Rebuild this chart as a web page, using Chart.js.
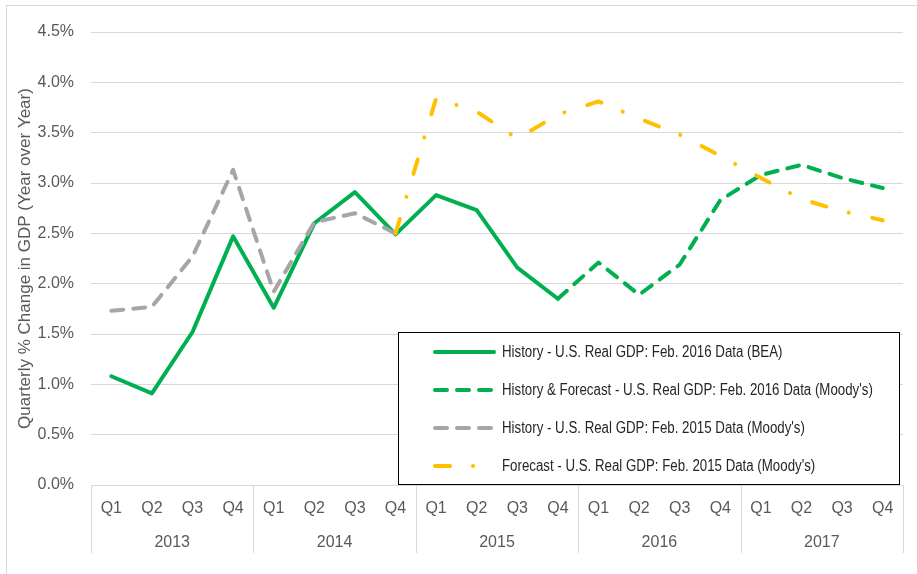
<!DOCTYPE html>
<html>
<head>
<meta charset="utf-8">
<script src="https://cdn.jsdelivr.net/npm/chart.js@4.4.1/dist/chart.umd.min.js"></script>
<style>
  html, body { margin: 0; padding: 0; background: #fff; }
  #wrap { position: relative; width: 917px; height: 574px; }
</style>
</head>
<body>
<div id="wrap"><canvas id="gdp-chart" width="917" height="574"></canvas></div>
<script>
// Quarterly real GDP growth, year over year (%)
const years = ['2013', '2014', '2015', '2016', '2017'];
const quarters = ['Q1', 'Q2', 'Q3', 'Q4'];
const yTicks = [0, 0.5, 1.0, 1.5, 2.0, 2.5, 3.0, 3.5, 4.0, 4.5];

const historyBEA2016 = [1.08, 0.91, 1.52, 2.47, 1.76, 2.60, 2.91, 2.49, 2.88, 2.73, 2.16, 1.85,
    null, null, null, null, null, null, null, null];
const forecastMoodys2016 = [null, null, null, null, null, null, null, null, null, null, null, 1.85,
    2.21, 1.89, 2.19, 2.83, 3.08, 3.18, 3.05, 2.95];
const historyMoodys2015 = [1.73, 1.77, 2.27, 3.13, 1.92, 2.61, 2.70, 2.50,
    null, null, null, null, null, null, null, null, null, null, null, null];
const forecastMoodys2015 = [null, null, null, null, null, null, null, 2.50,
    3.84, 3.71, 3.44, 3.68, 3.81, 3.64, 3.48, 3.27, 3.05, 2.84, 2.72, 2.63];

const seriesNames = [
    'History - U.S. Real GDP: Feb. 2016 Data (BEA)',
    'History & Forecast - U.S. Real GDP: Feb. 2016 Data (Moody\'s)',
    'History - U.S. Real GDP: Feb. 2015 Data (Moody\'s)',
    'Forecast - U.S. Real GDP: Feb. 2015 Data (Moody\'s)'
];

const labels = [];
years.forEach(() => quarters.forEach(q => labels.push(q)));

const GREEN = '#00B050';
const GREY = '#A6A6A6';
const GOLD = '#FFC000';
const TEXT = '#595959';
const GRID = '#D9D9D9';
const FONT = '"Liberation Sans", Arial, sans-serif';

// year labels under the quarters, with separators
const yearGroups = {
    id: 'yearGroups',
    afterDraw(chart) {
        const ctx = chart.ctx;
        const x = chart.scales.x;
        const step = x.width / labels.length;
        const top = chart.chartArea.bottom;
        ctx.save();
        ctx.strokeStyle = GRID;
        ctx.lineWidth = 1;
        for (let g = 0; g <= years.length; g++) {
            const px = Math.round(x.left + g * 4 * step) + 0.5;
            ctx.beginPath();
            ctx.moveTo(px, top);
            ctx.lineTo(px, top + 68);
            ctx.stroke();
        }
        ctx.fillStyle = TEXT;
        ctx.font = '16px ' + FONT;
        ctx.textAlign = 'center';
        ctx.textBaseline = 'middle';
        years.forEach((y, g) => {
            ctx.fillText(y, x.left + (g * 4 + 2) * step, top + 58);
        });
        ctx.restore();
    }
};

// boxed legend inside the plot, lower right
const boxLegend = {
    id: 'boxLegend',
    afterDatasetsDraw(chart) {
        const ctx = chart.ctx;
        const box = { left: 398.5, top: 332.5, right: 899.5, bottom: 484.5 };
        ctx.save();
        ctx.fillStyle = '#fff';
        ctx.fillRect(box.left, box.top, box.right - box.left, box.bottom - box.top);
        ctx.strokeStyle = '#000';
        ctx.lineWidth = 1;
        ctx.strokeRect(box.left, box.top, box.right - box.left, box.bottom - box.top);
        chart.data.datasets.forEach((ds, i) => {
            const y = 352 + i * 38;
            ctx.beginPath();
            ctx.strokeStyle = ds.borderColor;
            ctx.lineWidth = ds.borderWidth;
            ctx.lineCap = 'round';
            ctx.setLineDash(ds.borderDash || []);
            ctx.moveTo(435, y);
            ctx.lineTo(494, y);
            ctx.stroke();
            ctx.setLineDash([]);
            // narrow-looking text: squeeze regular sans horizontally
            ctx.save();
            ctx.translate(502, y + 1);
            ctx.scale(0.83, 1);
            ctx.fillStyle = '#262626';
            ctx.font = '16px ' + FONT;
            ctx.textAlign = 'left';
            ctx.textBaseline = 'middle';
            ctx.fillText(ds.label, 0, 0);
            ctx.restore();
        });
        ctx.restore();
    }
};

const frame = {
    id: 'frame',
    beforeDraw(chart) {
        const ctx = chart.ctx;
        ctx.save();
        ctx.strokeStyle = GRID;
        ctx.lineWidth = 1;
        ctx.strokeRect(6.5, 5.5, 1000, 1000);
        ctx.restore();
    }
};

function lineSet(label, data, color, dash, order) {
    return {
        label: label,
        data: data,
        borderColor: color,
        backgroundColor: color,
        borderWidth: 4,
        borderDash: dash,
        borderCapStyle: 'round',
        borderJoinStyle: 'round',
        pointRadius: 0,
        pointHoverRadius: 0,
        tension: 0,
        spanGaps: false,
        order: order
    };
}

const ctx = document.getElementById('gdp-chart').getContext('2d');
const gdpChart = new Chart(ctx, {
    type: 'line',
    data: {
        labels: labels,
        datasets: [
            lineSet(seriesNames[0], historyBEA2016, GREEN, [], 3),
            lineSet(seriesNames[1], forecastMoodys2016, GREEN, [12, 10], 2),
            lineSet(seriesNames[2], historyMoodys2015, GREY, [12, 10], 1),
            lineSet(seriesNames[3], forecastMoodys2015, GOLD, [15, 23, 0.1, 24], 0)
        ]
    },
    options: {
        responsive: false,
        animation: false,
        events: [],
        layout: { padding: { top: 32, right: 14, bottom: 0, left: 0 } },
        plugins: {
            legend: { display: false },
            tooltip: { enabled: false }
        },
        scales: {
            x: {
                type: 'category',
                offset: true,
                grid: { display: false },
                border: { display: false },
                ticks: {
                    color: TEXT,
                    font: { family: FONT, size: 16 },
                    autoSkip: false,
                    maxRotation: 0,
                    padding: 6
                },
                afterFit(scale) { scale.height = 89; }
            },
            y: {
                min: 0,
                max: 4.5,
                afterBuildTicks(scale) { scale.ticks = yTicks.map(v => ({ value: v })); },
                grid: { color: GRID, lineWidth: 1, drawTicks: false },
                border: { display: false },
                ticks: {
                    color: TEXT,
                    font: { family: FONT, size: 16 },
                    padding: 17,
                    callback: v => v.toFixed(1) + '%'
                },
                title: {
                    display: true,
                    text: 'Quarterly % Change in GDP (Year over Year)',
                    color: TEXT,
                    font: { family: FONT, size: 17 },
                    padding: { top: 15, bottom: 0 }
                },
                afterFit(scale) { scale.width = 91; }
            }
        }
    },
    plugins: [frame, boxLegend, yearGroups]
});
</script>
</body>
</html>
